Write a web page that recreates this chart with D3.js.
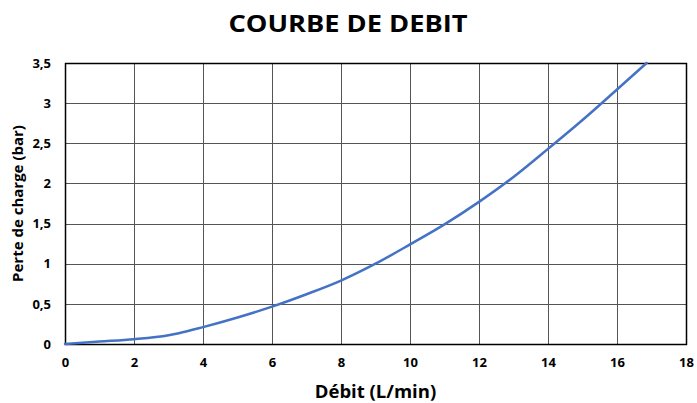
<!DOCTYPE html>
<html><head><meta charset="utf-8">
<script src="https://cdn.jsdelivr.net/npm/d3@7"></script>
<style>body{margin:0;background:#fff}svg{display:block}text{font-family:"Open Sans",sans-serif}</style>
</head><body>
<svg id="c" width="697" height="403"></svg>
<script>
const title = "COURBE DE DEBIT";
const xLabel = "Débit (L/min)";
const yLabel = "Perte de charge (bar)";
const flow = [0, 1, 2, 3, 3.3, 4, 5, 6, 7, 8, 9, 10, 11, 12, 13, 14, 15, 16, 16.86];
const loss = [0, 0.03, 0.06, 0.11, 0.135, 0.21, 0.33, 0.465, 0.62, 0.79, 1.0, 1.24, 1.49, 1.77, 2.08, 2.43, 2.79, 3.17, 3.5];
const xTicks = [0, 2, 4, 6, 8, 10, 12, 14, 16, 18];
const yTicks = [0, 0.5, 1, 1.5, 2, 2.5, 3, 3.5];

const svg = d3.select("#c");
const m = {l: 65, r: 686, t: 63, b: 344};
const x = d3.scaleLinear().domain([0, 18]).range([m.l, m.r]);
const y = d3.scaleLinear().domain([0, 3.5]).range([m.b, m.t]);
const fmt = v => String(v).replace(".", ",");

// grid
const g = svg.append("g");
g.selectAll(".vx").data(xTicks).join("line")
  .attr("x1", d => Math.round(x(d)) + 0.5).attr("x2", d => Math.round(x(d)) + 0.5)
  .attr("y1", m.t).attr("y2", m.b).attr("stroke", "#555").attr("stroke-width", 1);
g.selectAll(".hy").data(yTicks).join("line")
  .attr("y1", d => Math.round(y(d)) + 0.5).attr("y2", d => Math.round(y(d)) + 0.5)
  .attr("x1", m.l).attr("x2", m.r).attr("stroke", "#555").attr("stroke-width", 1);

// frame
svg.append("rect").attr("x", m.l + 0.5).attr("y", m.t + 0.5)
  .attr("width", m.r - m.l).attr("height", m.b - m.t)
  .attr("fill", "none").attr("stroke", "#000").attr("stroke-width", 1.5);

// axes
const xa = svg.append("g").attr("transform", `translate(0,${m.b})`)
  .call(d3.axisBottom(x).tickValues(xTicks).tickFormat(fmt).tickSize(0).tickPadding(14));
const ya = svg.append("g").attr("transform", `translate(${m.l},0)`)
  .call(d3.axisLeft(y).tickValues(yTicks).tickFormat(fmt).tickSize(0).tickPadding(14));
[xa, ya].forEach(a => {
  a.select(".domain").remove();
  a.selectAll("text").attr("font-family", "'Open Sans',sans-serif")
    .attr("font-size", 13).attr("font-weight", "bold").attr("fill", "#000");
});

// curve
const data = flow.map((f, i) => [f, loss[i]]);
svg.append("path").datum(data)
  .attr("d", d3.line().x(d => x(d[0])).y(d => y(d[1])).curve(d3.curveMonotoneX))
  .attr("fill", "none").attr("stroke", "#4472C4").attr("stroke-width", 2.5)
  .attr("stroke-linecap", "round");

// titles
svg.append("text").attr("x", 348).attr("y", 32).attr("text-anchor", "middle")
  .attr("font-size", 24).attr("font-weight", "bold")
  .attr("textLength", 239).attr("lengthAdjust", "spacingAndGlyphs").text(title);
svg.append("text").attr("x", (m.l + m.r) / 2).attr("y", 398).attr("text-anchor", "middle")
  .attr("font-size", 18.5).attr("font-weight", "bold").text(xLabel);
svg.append("text").attr("transform", `translate(23,${(m.t + m.b) / 2}) rotate(-90)`)
  .attr("text-anchor", "middle").attr("font-size", 15).attr("font-weight", "bold").text(yLabel);
</script>
</body></html>
